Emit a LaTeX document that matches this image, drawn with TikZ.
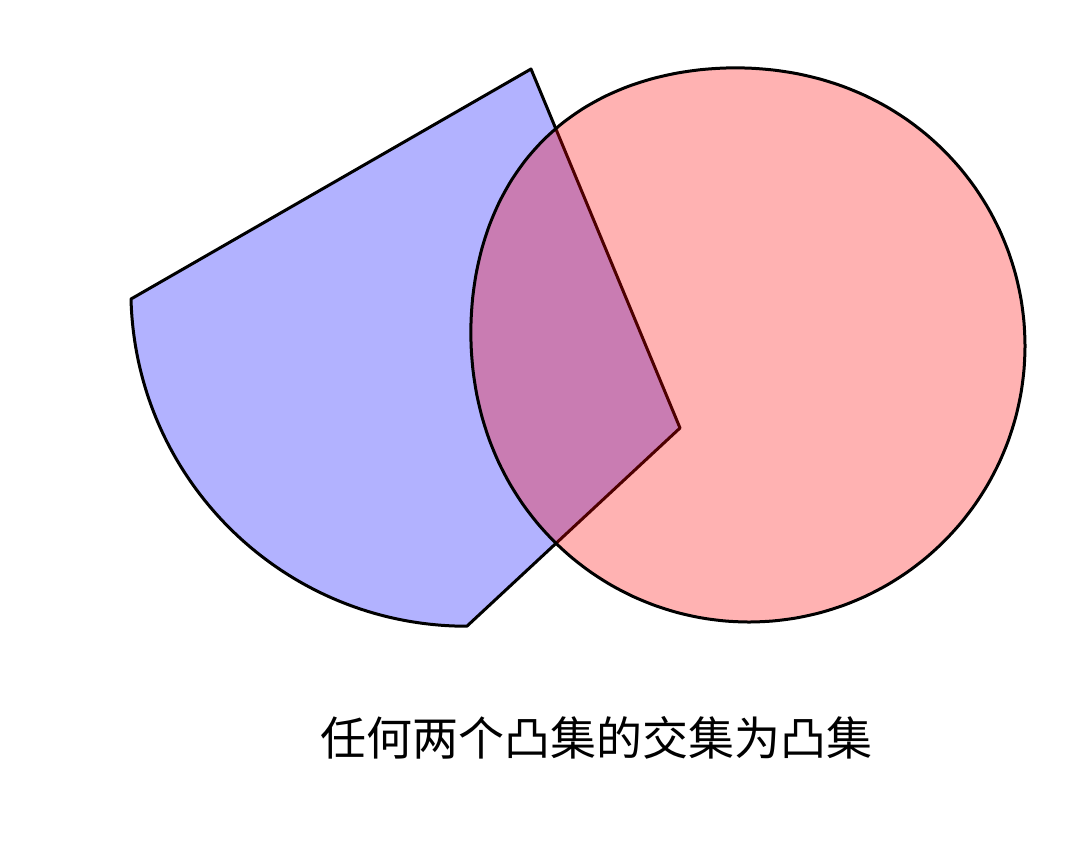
\documentclass[tikz,border=0pt]{standalone}
\usepackage{fontspec}
\newfontfamily\cjk{Noto Sans CJK SC}
\usepackage{xcolor}

\begin{document}
\begin{tikzpicture}[x=1pt,y=-1pt]
        \def\r{336}
        \def\R{276}

        \useasboundingbox (0,0) rectangle (1078,847);

        %------------------
        % 扇形（青）
        %------------------
        \draw[line width=3pt,line join=round,fill=blue,fill opacity=0.3,draw opacity=1]
          (531,69)--(131,299) arc[start angle=178.5,end angle=90,radius=\r]--(680,428)--cycle;

        %------------------
        % 円（赤）
        %------------------
        \draw[line width=3pt,fill=red,fill opacity=0.3,draw opacity=1]
          plot[smooth cycle,domain=0:355,samples=72]
          ({749+(\R+15*max(0,cos(\x-225))^6)*cos(\x)},{346+(\R+15*max(0,cos(\x-225))^6)*sin(\x)});

        % ラベル
        \node (caption) at (596,738) {\cjk\fontsize{46}{54}\selectfont 任何两个凸集的交集为凸集};
      \end{tikzpicture}
\end{document}
